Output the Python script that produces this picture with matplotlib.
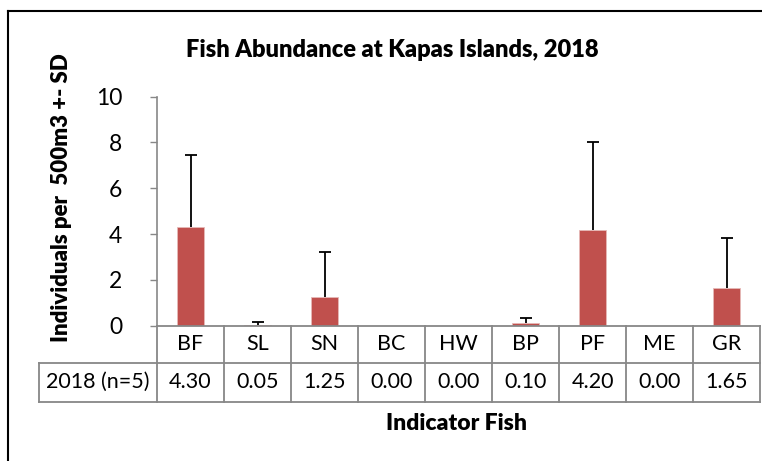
import numpy as np
import matplotlib
matplotlib.use("Agg")
from matplotlib import pyplot as plt
from matplotlib.lines import Line2D
import matplotlib.transforms as mtransforms

fish = ["BF", "SL", "SN", "BC", "HW", "BP", "PF", "ME", "GR"]
means = [4.30, 0.05, 1.25, 0.00, 0.00, 0.10, 4.20, 0.00, 1.65]
sds = [3.15, 0.10, 1.95, 0.00, 0.00, 0.22, 3.80, 0.00, 2.18]
row_label = "2018 (n=5)"
yticks = [0, 2, 4, 6, 8, 10]

plt.rcParams['font.family'] = ['Lato', 'DejaVu Sans']

fig = plt.figure(figsize=(7.62, 4.61), dpi=100)
W, H = 762, 461
ax = fig.add_axes([157 / W, 1 - 325.7 / H, (760 - 157) / W, (325.7 - 96.7) / H])

x = np.arange(len(fish))
grey = "#878787"

ax.bar(x, means, width=0.4, color="#C0504D", edgecolor="#E6B9B8", linewidth=0.6, zorder=2)

# plus-only error bars, skipped where SD is zero
m = np.array(means)
s = np.array(sds)
has = s > 0
ax.vlines(x[has], m[has], m[has] + s[has], color="black", linewidth=1.3, zorder=3)
ax.plot(x[has], m[has] + s[has], linestyle="none", marker="_", markersize=8,
        markeredgewidth=1.3, color="black", zorder=3)

ax.set_xlim(-0.5, len(fish) - 0.5)
ax.set_ylim(0, 10)
ax.set_yticks(yticks)
ax.set_yticklabels([str(t) for t in yticks], fontsize=16.5)
ax.tick_params(axis="y", direction="out", length=5, color=grey, width=1, pad=20)
ax.set_xticks([])
for sp in ["top", "right", "bottom"]:
    ax.spines[sp].set_visible(False)
ax.spines["left"].set_color(grey)
ax.spines["left"].set_linewidth(1.2)

# data table under the axis
tr = mtransforms.blended_transform_factory(ax.transData, ax.transAxes)
ax_h = 325.7 - 96.7
y_head = -(363 - 325.7) / ax_h
y_row = -(401.7 - 325.7) / ax_h
x_left = -0.5 - (157 - 39.3) / 67.0
x_right = len(fish) - 0.5

def tline(xs, ys):
    ax.add_line(Line2D(xs, ys, transform=tr, color=grey, linewidth=1.3, clip_on=False))

tline([-0.5, x_right], [0, 0])
tline([x_left, x_right], [y_head, y_head])
tline([x_left, x_right], [y_row, y_row])
tline([x_left, x_left], [y_head, y_row])
for b in np.arange(len(fish) + 1) - 0.5:
    tline([b, b], [0, y_row])

for i, (name, v) in enumerate(zip(fish, means)):
    ax.text(i, y_head / 2, name, transform=tr, ha="center", va="center", fontsize=15.5)
    ax.text(i, (y_head + y_row) / 2, "%.2f" % v, transform=tr, ha="center", va="center", fontsize=15.5)
ax.text((x_left - 0.5) / 2, (y_head + y_row) / 2, row_label, transform=tr,
        ha="center", va="center", fontsize=15.5)

fig.text(392 / W, 1 - 50 / H, "Fish Abundance at Kapas Islands, 2018",
         ha="center", va="center", fontsize=17, fontweight="heavy")
fig.text(62 / W, 1 - 198 / H, "Individuals per  500m3 +- SD", rotation=90,
         ha="center", va="center", fontsize=16, fontweight="heavy")
fig.text(457 / W, 1 - 423 / H, "Indicator Fish",
         ha="center", va="center", fontsize=16.5, fontweight="heavy")

# chart frame (left and top edges visible)
fig.add_artist(Line2D([8 / W, 8 / W], [0, 1 - 11 / H], color="black", linewidth=1.5,
                      transform=fig.transFigure))
fig.add_artist(Line2D([8 / W, 1], [1 - 11 / H, 1 - 11 / H], color="black", linewidth=1.5,
                      transform=fig.transFigure))

fig.savefig("out.png", dpi=100)
